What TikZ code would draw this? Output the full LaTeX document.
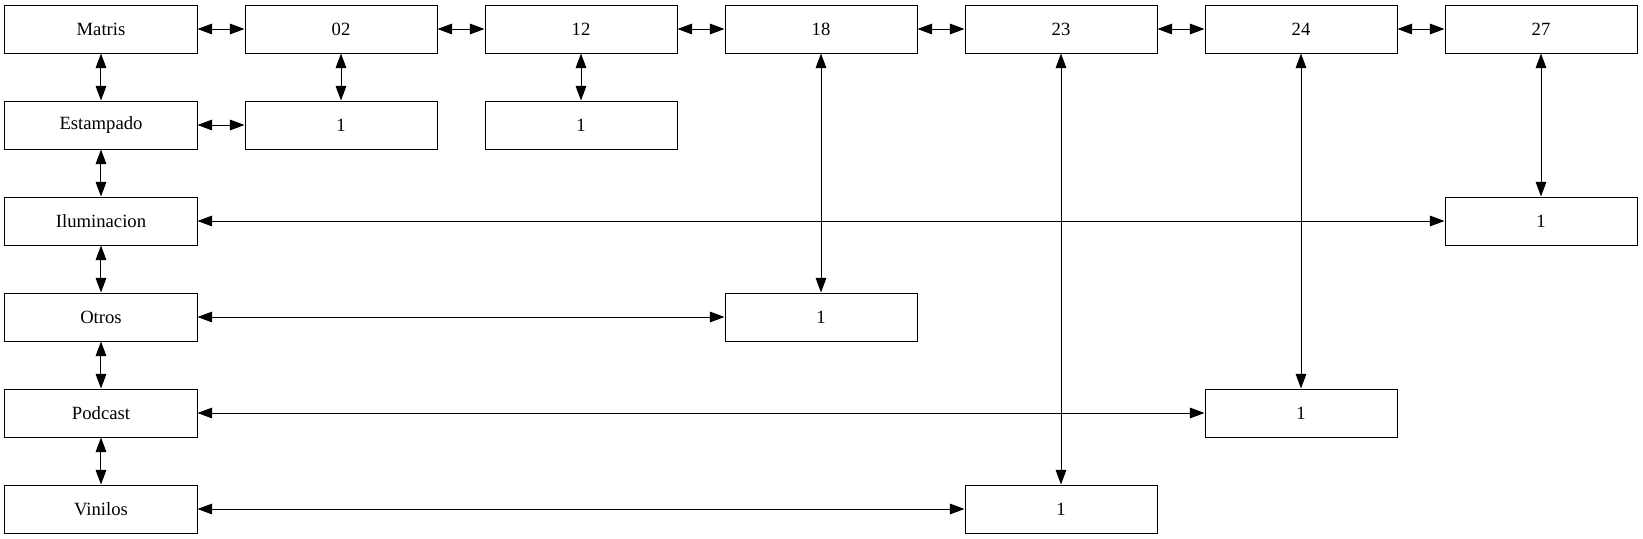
\documentclass[tikz,border=0pt]{standalone}
\usepackage{fontspec}
\setmainfont{Liberation Serif}
\usepackage{tikz}
\usetikzlibrary{arrows.meta}

\begin{document}
\begin{tikzpicture}[x=180pt,y=72pt,
  celda/.style={draw,line width=0.75pt,minimum width=144pt,minimum height=36pt,inner sep=0pt,font=\fontsize{14}{16}\selectfont},
  enlace/.style={line width=0.75pt,{Triangle[length=11pt,width=8pt]}-{Triangle[length=11pt,width=8pt]}}]
\useasboundingbox (-75.75pt,21.75pt) rectangle (1156.5pt,-382.5pt);
% cabeceras de filas
\node[celda] (matris) at (0,0) {Matris};
\node[celda] (estampado) at (0,-1) {Estampado};
\node[celda] (iluminacion) at (0,-2) {Iluminacion};
\node[celda] (otros) at (0,-3) {Otros};
\node[celda] (podcast) at (0,-4) {Podcast};
\node[celda] (vinilos) at (0,-5) {Vinilos};
% cabeceras de columnas
\node[celda] (c02) at (1,0) {02};
\node[celda] (c12) at (2,0) {12};
\node[celda] (c18) at (3,0) {18};
\node[celda] (c23) at (4,0) {23};
\node[celda] (c24) at (5,0) {24};
\node[celda] (c27) at (6,0) {27};
% valores
\node[celda] (v0202) at (1,-1) {1};
\node[celda] (v0212) at (2,-1) {1};
\node[celda] (vilu27) at (6,-2) {1};
\node[celda] (votr18) at (3,-3) {1};
\node[celda] (vpod24) at (5,-4) {1};
\node[celda] (vvin23) at (4,-5) {1};
% enlaces
\draw[enlace] (matris) -- (c02);
\draw[enlace] (c02) -- (c12);
\draw[enlace] (c12) -- (c18);
\draw[enlace] (c18) -- (c23);
\draw[enlace] (c23) -- (c24);
\draw[enlace] (c24) -- (c27);
\draw[enlace] (matris) -- (estampado);
\draw[enlace] (estampado) -- (iluminacion);
\draw[enlace] (iluminacion) -- (otros);
\draw[enlace] (otros) -- (podcast);
\draw[enlace] (podcast) -- (vinilos);
\draw[enlace] (estampado) -- (v0202);
\draw[enlace] (c02) -- (v0202);
\draw[enlace] (c12) -- (v0212);
\draw[enlace] (iluminacion) -- (vilu27);
\draw[enlace] (c27) -- (vilu27);
\draw[enlace] (otros) -- (votr18);
\draw[enlace] (c18) -- (votr18);
\draw[enlace] (podcast) -- (vpod24);
\draw[enlace] (c24) -- (vpod24);
\draw[enlace] (vinilos) -- (vvin23);
\draw[enlace] (c23) -- (vvin23);
\end{tikzpicture}
\end{document}
